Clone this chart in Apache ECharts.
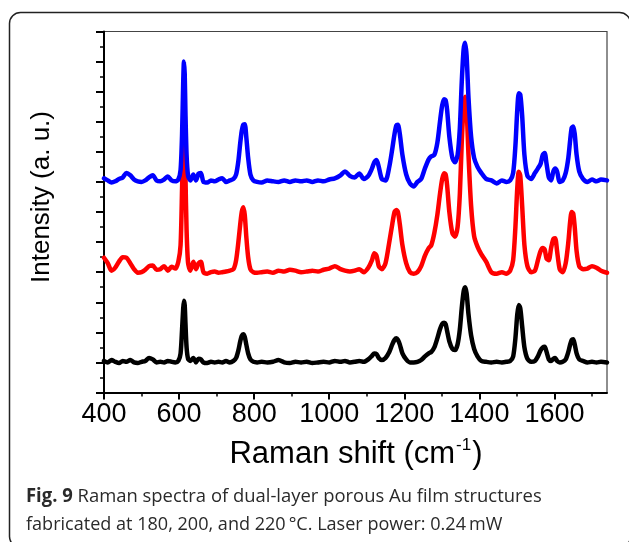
<!DOCTYPE html>
<html>
<head>
<meta charset="utf-8">
<script src="https://cdn.jsdelivr.net/npm/echarts@6/dist/echarts.min.js"></script>
<style>
html,body{margin:0;padding:0;background:#fff;}
#chart{width:629px;height:542px;}
</style>
</head>
<body>
<div id="chart"></div>
<script>
// Raman shift (cm^-1)
var shift = [
  400, 410, 420, 430, 440, 450, 460, 470, 480, 490,
  500, 510, 520, 530, 540, 550, 560, 570, 580, 590,
  598, 604, 608, 611, 613, 615, 617, 620, 624, 630,
  638, 645, 652, 658, 665, 675, 685, 695, 705, 715,
  725, 735, 745, 752, 758, 763, 767, 771, 775, 779,
  784, 790, 798, 808, 820, 835, 850, 865, 880, 895,
  910, 925, 940, 955, 970, 985, 1000, 1015, 1030, 1042,
  1055, 1068, 1080, 1092, 1104, 1114, 1120, 1126, 1132, 1140,
  1150, 1160, 1168, 1174, 1179, 1183, 1188, 1195, 1205, 1215,
  1225, 1235, 1245, 1255, 1265, 1272, 1280, 1288, 1295, 1301,
  1306, 1310, 1314, 1320, 1328, 1335, 1342, 1348, 1353, 1358,
  1362, 1366, 1371, 1378, 1386, 1395, 1405, 1418, 1432, 1446,
  1460, 1472, 1482, 1490, 1496, 1501, 1505, 1509, 1514, 1520,
  1528, 1538, 1548, 1556, 1563, 1569, 1574, 1579, 1585, 1591,
  1597, 1602, 1607, 1614, 1622, 1630, 1637, 1642, 1646, 1650,
  1654, 1659, 1666, 1676, 1688, 1700, 1712, 1724, 1740
];
// blue spectrum (top, offset)
var blueSpec = [
  7.12, 7.05, 6.98, 7.02, 7.10, 7.15, 7.30, 7.22, 7.08, 7.02,
  7.00, 7.05, 7.15, 7.22, 7.05, 7.02, 7.08, 7.18, 7.05, 7.02,
  7.08, 7.4, 8.6, 10.3, 11.0, 10.6, 9.3, 7.9, 7.2, 7.05,
  7.25, 7.05, 7.28, 7.3, 7.0, 6.98, 7.05, 7.02, 7.08, 7.12,
  7.0, 7.05, 7.1, 7.25, 7.7, 8.3, 8.7, 8.9, 8.92, 8.5,
  7.8, 7.25, 7.05, 7.0, 6.98, 7.05, 7.02, 7.0, 7.05, 7.0,
  7.05, 7.02, 7.05, 7.0, 7.05, 7.02, 7.08, 7.12, 7.22, 7.35,
  7.2, 7.15, 7.28, 7.1, 7.2, 7.45, 7.65, 7.73, 7.5, 7.1,
  7.05, 7.5, 8.1, 8.6, 8.88, 8.9, 8.6, 7.9, 7.25, 6.95,
  6.85, 7.0, 7.1, 7.45, 7.75, 7.85, 7.9, 8.3, 9.0, 9.55,
  9.75, 9.72, 9.4, 8.5, 7.8, 7.65, 7.9, 8.8, 10.3, 11.4,
  11.63, 11.2, 9.8, 8.5, 7.8, 7.5, 7.3, 7.1, 7.05, 6.95,
  7.05, 7.0, 7.05, 7.3, 8.2, 9.4, 9.95, 9.9, 9.2, 7.9,
  7.2, 7.1, 7.3, 7.45, 7.6, 7.9, 7.96, 7.6, 7.15, 7.05,
  7.35, 7.45, 7.35, 7.0, 7.05, 7.3, 7.8, 8.4, 8.8, 8.84,
  8.6, 7.9, 7.35, 7.1, 7.0, 7.08, 7.02, 7.08, 7.05
];
// red spectrum (middle, offset)
var redSpec = [
  4.48, 4.3, 4.05, 4.15, 4.35, 4.5, 4.48, 4.3, 4.1, 3.98,
  4.0, 4.08, 4.2, 4.22, 4.08, 4.1, 4.2, 4.05, 4.18, 4.12,
  4.35, 4.9, 6.8, 8.5, 9.0, 8.6, 7.2, 5.4, 4.3, 4.05,
  4.35, 4.1, 4.3, 4.35, 4.0, 3.95, 4.0, 4.02, 3.98, 4.0,
  4.02, 4.05, 4.1, 4.4, 5.0, 5.6, 6.0, 6.16, 5.9, 5.2,
  4.5, 4.1, 4.0, 3.98, 4.0, 4.02, 3.98, 4.05, 4.02, 4.08,
  4.05, 4.0, 4.02, 4.05, 4.02, 4.08, 4.12, 4.2, 4.1, 4.05,
  4.02, 4.05, 4.1, 4.0, 4.15, 4.4, 4.63, 4.55, 4.2, 4.1,
  4.3, 5.0, 5.6, 6.0, 6.07, 6.0, 5.6, 4.9, 4.3, 4.0,
  3.95, 4.0, 4.2, 4.55, 4.8, 4.9, 5.3, 5.9, 6.6, 7.1,
  7.29, 7.25, 6.9, 6.0, 5.3, 5.18, 5.5, 6.6, 8.3, 9.5,
  9.83, 9.4, 7.9, 6.2, 5.2, 4.85, 4.6, 4.35, 4.0, 3.95,
  4.0, 3.95, 4.05, 4.4, 5.5, 6.8, 7.34, 7.2, 6.2, 4.9,
  4.2, 4.0, 4.05, 4.4, 4.7, 4.8, 4.75, 4.45, 4.4, 4.8,
  5.1, 5.13, 4.7, 4.1, 4.0, 4.3, 5.0, 5.7, 6.0, 5.95,
  5.5, 4.7, 4.2, 4.1, 4.12, 4.2, 4.15, 4.05, 3.98
];
// black spectrum (bottom)
var blackSpec = [
  1.05, 1.0, 1.08, 1.02, 0.98, 1.05, 1.02, 1.08, 1.0, 0.98,
  1.02, 1.05, 1.15, 1.1, 1.0, 1.02, 1.0, 1.05, 1.02, 1.0,
  1.05, 1.3, 2.1, 2.8, 3.05, 2.9, 2.3, 1.5, 1.12, 1.05,
  1.15, 1.0, 1.12, 1.1, 1.0, 0.98, 1.02, 1.0, 1.02, 1.0,
  1.05, 1.0, 1.05, 1.15, 1.4, 1.7, 1.88, 1.94, 1.85, 1.6,
  1.3, 1.1, 1.02, 1.0, 1.02, 1.0, 1.02, 1.08, 1.0, 0.98,
  1.02, 1.0, 1.02, 0.98, 1.0, 1.02, 1.0, 1.05, 1.02, 1.05,
  1.0, 1.02, 1.05, 1.02, 1.1, 1.22, 1.3, 1.28, 1.15, 1.08,
  1.15, 1.35, 1.6, 1.75, 1.8, 1.75, 1.6, 1.3, 1.1, 1.0,
  1.0, 1.02, 1.08, 1.2, 1.3, 1.35, 1.5, 1.8, 2.1, 2.28,
  2.32, 2.28, 2.05, 1.7, 1.45, 1.41, 1.6, 2.1, 2.8, 3.35,
  3.5, 3.3, 2.6, 1.9, 1.45, 1.2, 1.05, 1.02, 1.0, 1.02,
  1.0, 1.02, 1.05, 1.2, 1.8, 2.6, 2.91, 2.8, 2.2, 1.5,
  1.12, 1.02, 1.05, 1.2, 1.4, 1.5, 1.52, 1.35, 1.1, 1.05,
  1.12, 1.15, 1.05, 1.0, 1.02, 1.1, 1.35, 1.6, 1.75, 1.77,
  1.6, 1.3, 1.1, 1.05, 1.0, 1.02, 1.0, 1.02, 1.0
];
var xMajorTicks = [400, 600, 800, 1000, 1200, 1400, 1600];
var xMinorTicks = [500, 700, 900, 1100, 1300, 1500, 1700];
var xTitle = 'Raman shift (cm';
var xTitleSup = '-1';
var yTitle = 'Intensity (a. u.)';
var captionBold = 'Fig. 9';
var captionLine1 = ' Raman spectra of dual-layer porous Au film structures';
var captionLine2 = 'fabricated at 180, 200, and 220\u2009\u00b0C. Laser power: 0.24\u2009mW';

function pairs(xs, ys) {
  var out = [];
  for (var i = 0; i < xs.length; i++) out.push([xs[i], ys[i]]);
  return out;
}

var chart = echarts.init(document.getElementById('chart'), null, {renderer: 'canvas'});
var AX = 'Liberation Sans, Arial, sans-serif';
var lineSeries = function (name, color, ys) {
  return {
    name: name, type: 'line', data: pairs(shift, ys), xAxisIndex: 0, yAxisIndex: 0,
    showSymbol: false, smooth: 0.25,
    lineStyle: {color: color, width: 4.5, join: 'round', cap: 'round'},
    emphasis: {disabled: true}, silent: true
  };
};

chart.setOption({
  animation: false,
  grid: {left: 104, top: 31.5, width: 503, height: 361, show: true,
         borderColor: '#444', borderWidth: 1.2, backgroundColor: 'transparent'},
  xAxis: [{
    type: 'value', min: 400, max: 1740, interval: 200,
    axisLine: {show: true, onZero: false, lineStyle: {color: '#000', width: 2}},
    axisTick: {show: true, length: 7, inside: false, customValues: xMajorTicks,
               lineStyle: {color: '#000', width: 2}},
    axisLabel: {show: true, customValues: xMajorTicks, fontSize: 27, color: '#000',
                fontFamily: AX, margin: 9,
                formatter: function (v) { return String(v); }},
    splitLine: {show: false}
  }, {
    type: 'value', min: 400, max: 1740, position: 'bottom',
    axisLine: {show: false},
    axisTick: {show: true, length: 4, inside: false, customValues: xMinorTicks,
               lineStyle: {color: '#000', width: 1.5}},
    axisLabel: {show: false},
    splitLine: {show: false}
  }],
  yAxis: {
    type: 'value', min: 0, max: 12, interval: 1,
    axisLine: {show: true, onZero: false, lineStyle: {color: '#000', width: 2}},
    axisTick: {show: true, length: 8, inside: false, lineStyle: {color: '#000', width: 2}},
    minorTick: {show: true, splitNumber: 2, length: 4, lineStyle: {color: '#000', width: 1.5}},
    axisLabel: {show: false},
    splitLine: {show: false}
  },
  series: [
    lineSeries('black', '#000000', blackSpec),
    lineSeries('red', '#ff0000', redSpec),
    lineSeries('blue', '#0000ff', blueSpec)
  ],
  graphic: [
    {type: 'rect', silent: true, z: 100,
     shape: {x: 9.5, y: 12.5, width: 621, height: 535, r: 11},
     style: {fill: 'none', stroke: '#222', lineWidth: 1.5}},
    {type: 'text', silent: true, x: 42, y: 197, rotation: Math.PI / 2,
     style: {text: yTitle, fontSize: 26, fontFamily: AX, fill: '#000',
             align: 'center', verticalAlign: 'middle'}},
    {type: 'text', silent: true, x: 356, y: 454,
     style: {text: '{m|' + xTitle + '}{s|' + xTitleSup + '}{m|)}', fontFamily: AX, fill: '#000',
             align: 'center', verticalAlign: 'middle',
             rich: {m: {fontSize: 31, fontFamily: AX, fill: '#000', lineHeight: 35},
                    s: {fontSize: 17, fontFamily: AX, fill: '#000', verticalAlign: 'top', lineHeight: 35, padding: [0, 1, 0, 1]}}}},
    {type: 'text', silent: true, x: 26, y: 497, scaleX: 0.97,
     style: {text: '{b|' + captionBold + '}{r|' + captionLine1 + '}', verticalAlign: 'middle', align: 'left',
             rich: {b: {fontSize: 19, fontWeight: 'bold', fontFamily: 'Open Sans', fill: '#2a2a2a'},
                    r: {fontSize: 19, fontFamily: 'Open Sans', fill: '#2a2a2a'}}}},
    {type: 'text', silent: true, x: 26, y: 525, scaleX: 0.95,
     style: {text: captionLine2, fontSize: 19, fontFamily: 'Open Sans', fill: '#2a2a2a',
             verticalAlign: 'middle', align: 'left'}}
  ]
});
</script>
</body>
</html>
